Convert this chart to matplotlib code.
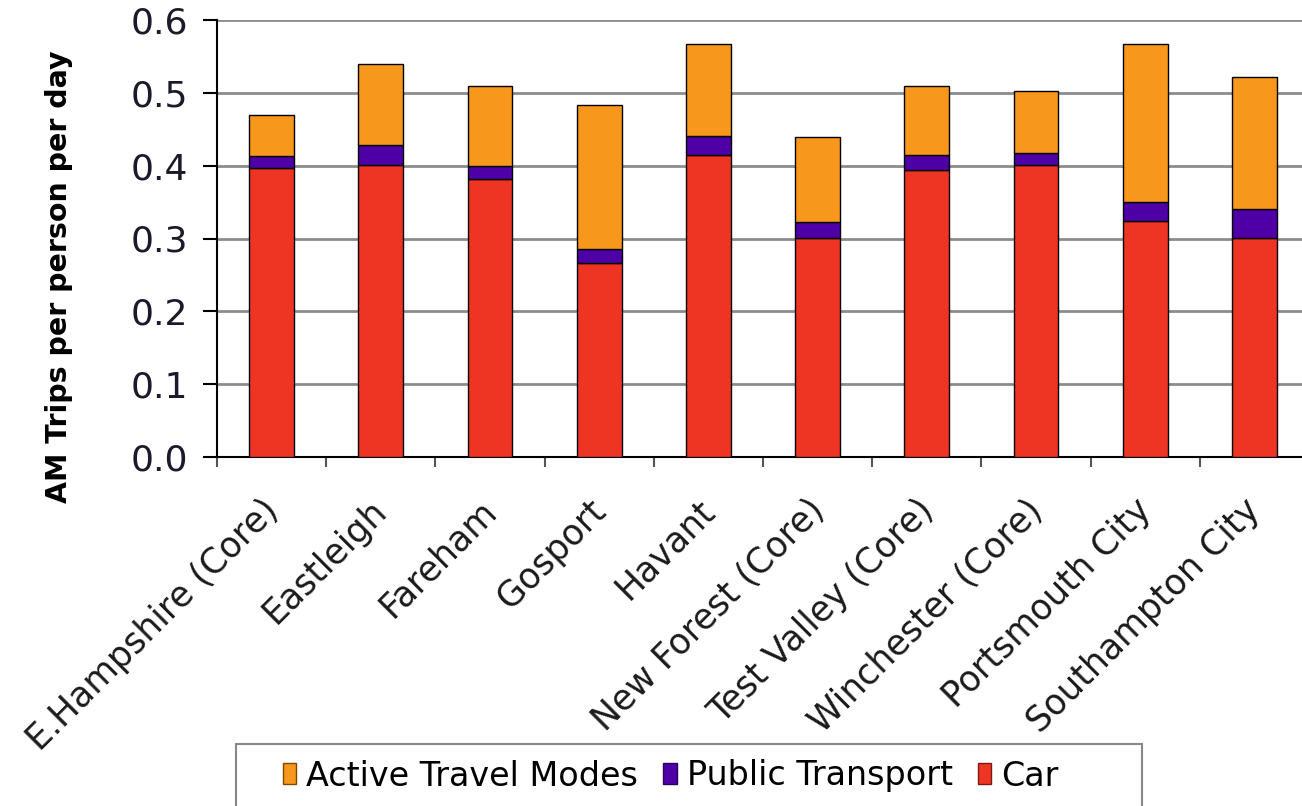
import matplotlib
matplotlib.use('Agg')
import matplotlib.pyplot as plt
import matplotlib.transforms as mtransforms
from matplotlib.patches import Patch, Rectangle
import numpy as np

districts = ['E.Hampshire (Core)', 'Eastleigh', 'Fareham', 'Gosport', 'Havant',
             'New Forest (Core)', 'Test Valley (Core)', 'Winchester (Core)',
             'Portsmouth City', 'Southampton City']
car = [0.397, 0.401, 0.382, 0.267, 0.414, 0.301, 0.394, 0.401, 0.324, 0.301]
public_transport = [0.016, 0.028, 0.018, 0.019, 0.027, 0.021, 0.020, 0.016, 0.026, 0.039]
active_travel = [0.057, 0.111, 0.109, 0.197, 0.126, 0.118, 0.095, 0.086, 0.217, 0.182]

c_car = '#EE3524'
c_pt = '#4E00A6'
c_act = '#F7981D'

plt.rcParams['font.family'] = 'DejaVu Sans'

fig = plt.figure(figsize=(13.02, 8.06), dpi=100)
ax = fig.add_axes([217/1302, 349/806, 1092/1302, 437/806])

x = np.arange(len(districts))
w = 0.41
car_a = np.array(car)
pt_a = np.array(public_transport)
act_a = np.array(active_travel)

ax.bar(x, car_a, w, color=c_car, edgecolor='black', linewidth=1, zorder=3)
ax.bar(x, pt_a, w, bottom=car_a, color=c_pt, edgecolor='black', linewidth=1, zorder=3)
ax.bar(x, act_a, w, bottom=car_a + pt_a, color=c_act, edgecolor='black', linewidth=1, zorder=3)

ax.set_xlim(-0.5, len(districts) - 0.5)
ax.set_ylim(0, 0.6)
yt = np.arange(0, 0.61, 0.1)
ax.set_yticks(yt)
ax.set_yticklabels([f'{v:.1f}' for v in yt], fontsize=26, color='#1a1a2a')
ax.yaxis.grid(True, color='#8c8c8c', linewidth=2, zorder=0)
ax.tick_params(axis='y', length=10, width=1.5, color='black', pad=11)

# category ticks sit between the bars, labels on the bars
ax.set_xticks(np.arange(-0.5, len(districts), 1.0))
ax.set_xticklabels([])
ax.tick_params(axis='x', length=7, width=1.5, color='#555555')
ax.set_xticks(x, minor=True)
ax.set_xticklabels(districts, minor=True, rotation=45, ha='right',
                   rotation_mode='anchor', fontsize=25, color='#1a1a1a')
ax.tick_params(axis='x', which='minor', length=0, pad=26)
shift = mtransforms.ScaledTranslation(-11/100, 0, fig.dpi_scale_trans)
for lab in ax.get_xticklabels(minor=True):
    lab.set_transform(lab.get_transform() + shift)

for s in ['top', 'right']:
    ax.spines[s].set_visible(False)
ax.spines['left'].set_linewidth(1.5)
ax.spines['bottom'].set_linewidth(1.5)

ax.set_ylabel('AM Trips per person per day', fontsize=20.5, fontweight='bold')
ax.yaxis.set_label_coords((73 - 217) / 1092, (457 - 277) / 437)

handles = [Patch(facecolor=c_act, edgecolor='#7a4a00', label='Active Travel Modes'),
           Patch(facecolor=c_pt, edgecolor='#2a0060', label='Public Transport'),
           Patch(facecolor=c_car, edgecolor='#7a1a10', label='Car')]
leg = fig.legend(handles=handles, loc='center left', bbox_to_anchor=(283/1302, 1 - 776/806),
                 ncol=3, fontsize=24, frameon=False,
                 handlelength=0.4, handleheight=0.6, handletextpad=0.3,
                 columnspacing=0.75, borderpad=0, borderaxespad=0)
fig.patches.append(Rectangle((236/1302, -0.02), 906/1302, (806 - 744)/806 + 0.02,
                             transform=fig.transFigure, fill=False,
                             edgecolor='#888888', linewidth=1.5))

fig.savefig('out.png', dpi=100)
